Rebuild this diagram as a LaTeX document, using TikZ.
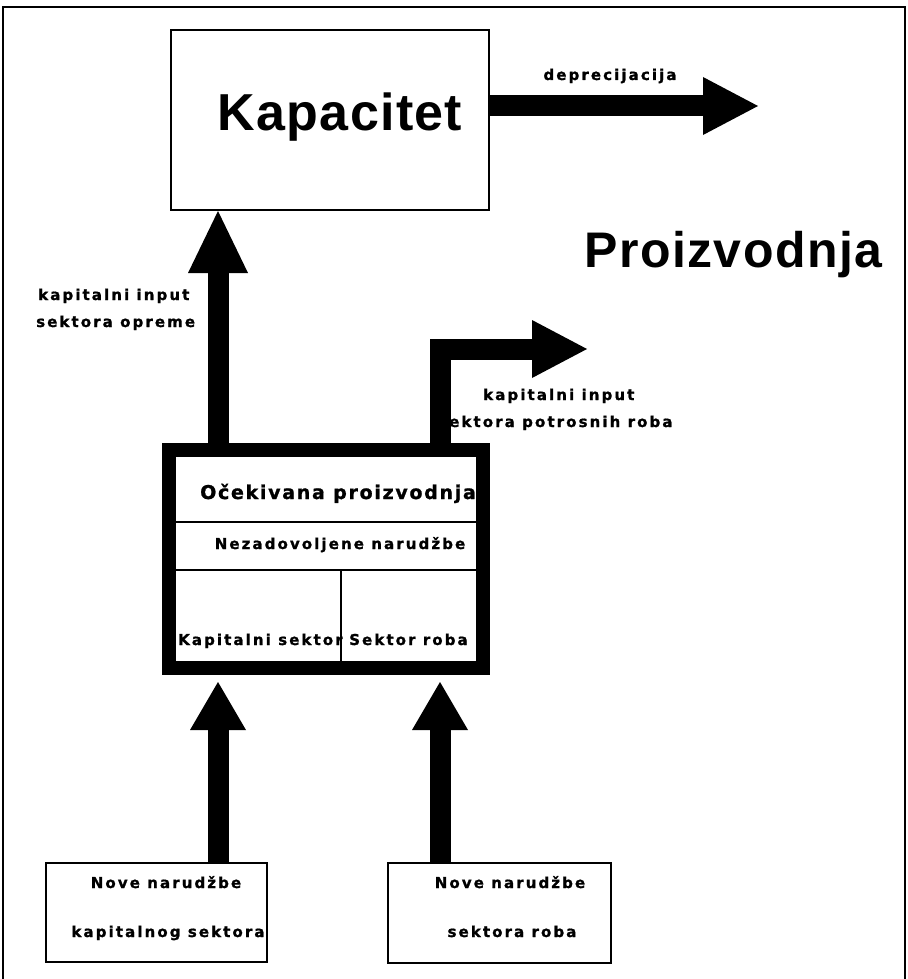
\documentclass[tikz,border=0pt]{standalone}
\usepackage{fontspec}
\setmainfont{Liberation Sans}
\newfontfamily\lblfont[LetterSpace=14,FakeBold=1.2]{DejaVu Sans}
\newfontfamily\ttlfont[LetterSpace=9,FakeBold=1.2]{DejaVu Sans}
\newfontfamily\bigfont[LetterSpace=2.5]{Liberation Sans}
\newfontfamily\prodfont[LetterSpace=3]{Liberation Sans}
\usetikzlibrary{arrows.meta}
\begin{document}
\begin{tikzpicture}[x=1pt,y=-1pt,
  box/.style={draw, line width=2pt, inner sep=0pt},
  flow/.style={line width=21pt, line join=miter,
    -{Triangle[length=55pt,width=58pt,line width=0pt]}},
  lbl/.style={font=\lblfont\bfseries\fontsize{15}{17}\selectfont, inner sep=0pt},
  ttl/.style={font=\ttlfont\bfseries\fontsize{19}{22}\selectfont, inner sep=0pt}]
\useasboundingbox (0,0) rectangle (907,979);
% frame
\draw[line width=2pt] (3,7) rectangle (905,995);
% boxes
\node[box, minimum width=318pt, minimum height=180pt] (kap) at (330,120) {};
\node[anchor=base, inner sep=0pt, font=\bigfont\bfseries\fontsize{52}{60}\selectfont] (kaptxt) at (340,131) {Kapacitet};
\node[anchor=base west, inner sep=0pt, font=\prodfont\bfseries\fontsize{50}{58}\selectfont] (prod) at (584,267) {Proizvodnja};
\node[draw, line width=14pt, minimum width=314pt, minimum height=218pt, inner sep=0pt] (big) at (326,559) {};
\draw[line width=2pt] (big.west |- 0,522) -- (big.east |- 0,522);
\draw[line width=2pt] (big.west |- 0,570) -- (big.east |- 0,570);
\draw[line width=2pt] (341,570) -- (341,668);
\node[ttl, anchor=base] (t1) at (338,499) {Očekivana proizvodnja};
\node[lbl, anchor=base] (t2) at (340,549) {Nezadovoljene narudžbe};
\node[lbl, anchor=base west] (t3) at (178,645) {Kapitalni sektor};
\node[lbl, anchor=base west] (t4) at (349,645) {Sektor roba};
\node[box, minimum width=221pt, minimum height=99pt] (lowL) at (156.5,912.5) {};
\node[box, minimum width=223pt, minimum height=100pt] (lowR) at (499.5,913) {};
\node[lbl, anchor=base] (nl1) at (166,888) {Nove narudžbe};
\node[lbl, anchor=base] (nl2) at (168,937) {kapitalnog sektora};
\node[lbl, anchor=base] (nr1) at (510,888) {Nove narudžbe};
\node[lbl, anchor=base] (nr2) at (512,937) {sektora roba};
% labels
\node[lbl, anchor=base west] (la1) at (38,300) {kapitalni input};
\node[lbl, anchor=base west] (la2) at (36,327) {sektora opreme};
\node[lbl, anchor=base west] (lb1) at (483,400) {kapitalni input};
\node[lbl, anchor=base west] (lb2) at (438,427) {sektora potrosnih roba};
\node[lbl, anchor=base] (ld) at (610,80) {deprecijacija};
% connectors
\coordinate (xL) at (218,0);
\coordinate (xR) at (440,0);
\coordinate (dep) at (758,106);
\coordinate (bend) at (587,349);
\draw[flow, -{Triangle[length=62pt,width=60pt,line width=0pt]}] (xL |- big.north) -- (xL |- kap.south);
\draw[flow] (xR |- big.north) |- (bend);
\draw[flow] (kap.east |- dep) -- (dep);
\draw[flow, -{Triangle[length=48pt,width=56pt,line width=0pt]}, shorten >=7pt] (xL |- lowL.north) -- (xL |- big.south);
\draw[flow, -{Triangle[length=48pt,width=56pt,line width=0pt]}, shorten >=7pt] (xR |- lowR.north) -- (xR |- big.south);
\end{tikzpicture}
\end{document}
